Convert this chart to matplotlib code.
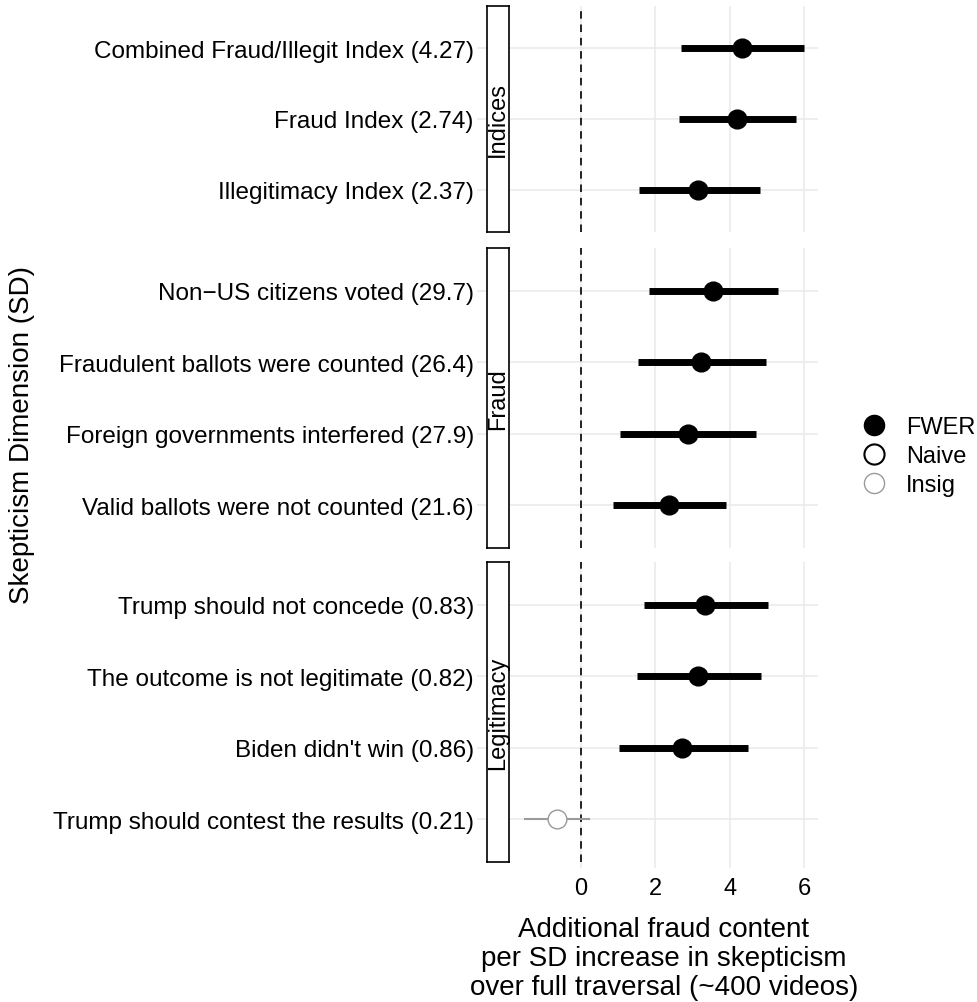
import numpy as np
import matplotlib
matplotlib.use("Agg")
import matplotlib.pyplot as plt
from matplotlib.lines import Line2D

plt.rcParams["font.family"] = ["Liberation Sans", "DejaVu Sans"]

# -----------------------------
# Estimates per skepticism dimension
# -----------------------------
panels = ["Indices", "Fraud", "Legitimacy"]

indices_labels = ["Combined Fraud/Illegit Index (4.27)", "Fraud Index (2.74)",
                  "Illegitimacy Index (2.37)"]
indices_est = [4.34, 4.21, 3.16]
indices_lo = [2.68, 2.65, 1.55]
indices_hi = [6.00, 5.79, 4.83]
indices_sig = ["FWER", "FWER", "FWER"]

fraud_labels = ["Non\u2212US citizens voted (29.7)", "Fraudulent ballots were counted (26.4)",
                "Foreign governments interfered (27.9)", "Valid ballots were not counted (21.6)"]
fraud_est = [3.54, 3.24, 2.87, 2.36]
fraud_lo = [1.82, 1.53, 1.05, 0.86]
fraud_hi = [5.31, 4.99, 4.72, 3.89]
fraud_sig = ["FWER", "FWER", "FWER", "FWER"]

legit_labels = ["Trump should not concede (0.83)", "The outcome is not legitimate (0.82)",
                "Biden didn't win (0.86)", "Trump should contest the results (0.21)"]
legit_est = [3.35, 3.16, 2.73, -0.64]
legit_lo = [1.69, 1.50, 1.02, -1.53]
legit_hi = [5.04, 4.85, 4.50, 0.24]
legit_sig = ["FWER", "FWER", "FWER", "Insig"]

x_ticks = [0, 2, 4, 6]

panel_data = [
    (indices_labels, indices_est, indices_lo, indices_hi, indices_sig),
    (fraud_labels, fraud_est, fraud_lo, fraud_hi, fraud_sig),
    (legit_labels, legit_est, legit_lo, legit_hi, legit_sig),
]

# -----------------------------
# Styles
# -----------------------------
grid_col = "#EBEBEB"
insig_col = "#9A9A9A"
styles = {
    "FWER": dict(line_col="black", lw=5.0, face="black", edge="black", mew=1.0),
    "Naive": dict(line_col="black", lw=5.0, face="white", edge="black", mew=1.5),
    "Insig": dict(line_col=insig_col, lw=1.5, face="white", edge=insig_col, mew=1.0),
}
FS = 17
W, H = 977, 1003

# x range with 5% padding on each side
all_lo = min(min(indices_lo), min(fraud_lo), min(legit_lo))
all_hi = max(max(indices_hi), max(fraud_hi), max(legit_hi))
pad = 0.05 * (all_hi - all_lo)
xlim = (all_lo - pad, all_hi + pad)

fig = plt.figure(figsize=(W / 100, H / 100), dpi=100)

# panel extents in pixels (top, bottom)
panel_px = [(7, 233), (249, 549), (563, 863)]
px_left, px_right = 510, 818
strip_left, strip_right = 487, 509


def fig_rect(x0, x1, y0, y1):
    return [x0 / W, 1 - y1 / H, (x1 - x0) / W, (y1 - y0) / H]


for i, (name, (labels, est, lo, hi, sig)) in enumerate(zip(panels, panel_data)):
    top, bottom = panel_px[i]
    n = len(labels)
    rows = np.arange(n)
    ylim = (n - 1 + 0.6, -0.6)

    ax = fig.add_axes(fig_rect(px_left, px_right, top, bottom))
    ax.set_xlim(xlim)
    ax.set_ylim(ylim)
    for s in ax.spines.values():
        s.set_visible(False)
    ax.set_xticks(x_ticks)
    ax.set_yticks(rows)
    ax.set_yticklabels([])
    ax.tick_params(axis="y", length=0)
    ax.grid(True, color=grid_col, lw=1.2, zorder=0)
    ax.set_axisbelow(True)

    ax.axvline(0, color="black", lw=1.2, linestyle=(0, (4.5, 3.5)), zorder=1)

    for r, e, l, h, s in zip(rows, est, lo, hi, sig):
        st = styles[s]
        ax.plot([l, h], [r, r], color=st["line_col"], lw=st["lw"],
                solid_capstyle="butt", zorder=2)
        ax.plot([e], [r], marker="o", markersize=13.5, markerfacecolor=st["face"],
                markeredgecolor=st["edge"], markeredgewidth=st["mew"], zorder=3)

    if i == len(panels) - 1:
        ax.tick_params(axis="x", length=4, width=1.2, color=grid_col, pad=7,
                       labelsize=FS, labelcolor="black")
    else:
        ax.tick_params(axis="x", length=0, labelbottom=False)

    # strip on the left, carrying the row labels outside it
    sax = fig.add_axes(fig_rect(strip_left, strip_right, top, bottom))
    sax.set_ylim(ylim)
    sax.set_xlim(0, 1)
    sax.set_xticks([])
    sax.set_yticks(rows)
    sax.set_yticklabels(labels, fontsize=17.5)
    sax.tick_params(axis="y", length=7, width=1.2, color=grid_col, pad=2.5)
    for s in sax.spines.values():
        s.set_color("black")
        s.set_linewidth(1.2)
    sax.text(0.5, 0.5, name, rotation=90, ha="center", va="center",
             fontsize=FS, transform=sax.transAxes)

# axis titles
fig.text(22 / W, 1 - 435 / H, "Skepticism Dimension (SD)", rotation=90,
         ha="center", va="center", fontsize=20)
fig.text(664 / W, 1 - 959 / H,
         "Additional fraud content\nper SD increase in skepticism\nover full traversal (~400 videos)",
         ha="center", va="center", fontsize=20, linespacing=1.13)

# legend
handles = []
for key in ["FWER", "Naive", "Insig"]:
    st = styles[key]
    handles.append(Line2D([], [], linestyle="none", marker="o", markersize=14.5,
                          markerfacecolor=st["face"], markeredgecolor=st["edge"],
                          markeredgewidth=st["mew"], label=key))
fig.legend(handles=handles, loc="center left", bbox_to_anchor=(860 / W, 1 - 457 / H),
           frameon=False, fontsize=FS, handlelength=1.2, handletextpad=0.75,
           labelspacing=0.3, borderpad=0, borderaxespad=0)

fig.savefig("out.png", dpi=100)
